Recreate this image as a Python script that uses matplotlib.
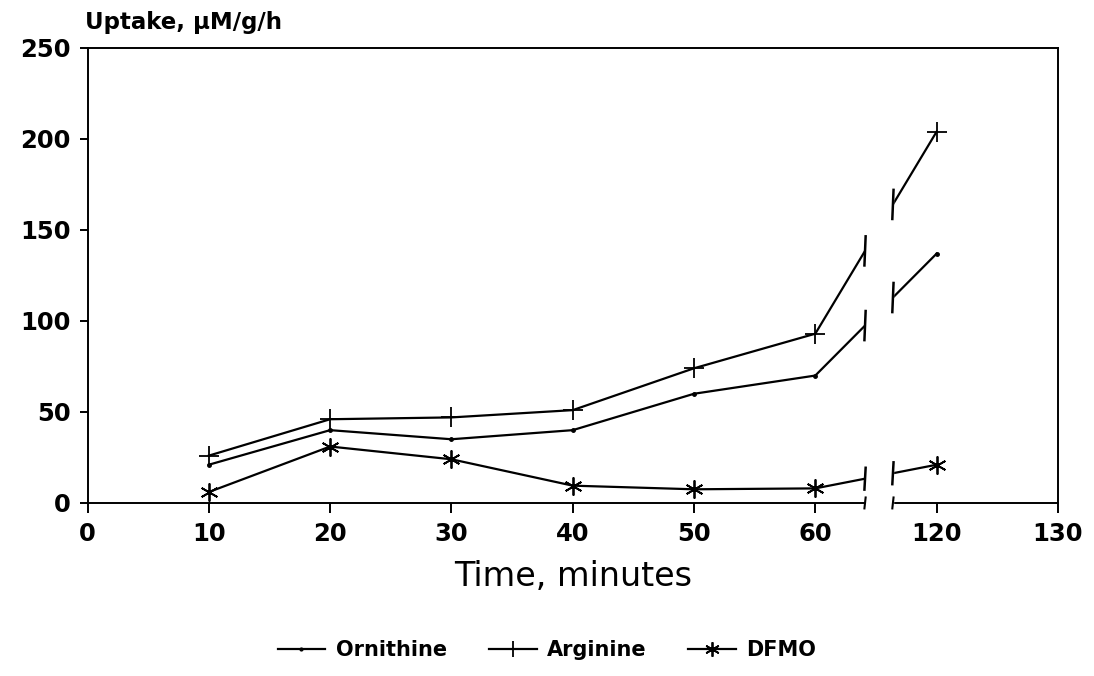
import numpy as np
import matplotlib
matplotlib.use('Agg')
from matplotlib import pyplot as plt

# data (time in minutes, uptake in uM/g/h)
time_min = [10, 20, 30, 40, 50, 60, 120]
ornithine = [21, 40, 35, 40, 60, 70, 137]
arginine = [26, 46, 47, 51, 74, 93, 204]
dfmo = [6, 31, 24, 9.5, 7.5, 8, 21]

tick_values = [0, 10, 20, 30, 40, 50, 60, 120, 130]
y_ticks = [0, 50, 100, 150, 200, 250]

# axis break: 60 -> 120 is squeezed to one tick step
BREAK_FROM, BREAK_TO = 60, 120
GAP = (64.1, 66.4)


def squeeze(t):
    """Map real time onto the broken axis."""
    t = np.asarray(t, dtype=float)
    return np.where(t > BREAK_FROM, t - (BREAK_TO - BREAK_FROM - 10), t)


plt.rcParams['font.family'] = ['DejaVu Sans']

fig = plt.figure(figsize=(10.94, 6.76), dpi=100)
ax = fig.add_axes([0.080, 0.256, 0.887, 0.673])

xs = squeeze(time_min)
series = [('Ornithine', ornithine, dict(marker='o', markersize=2.5)),
          ('Arginine', arginine, dict(marker='+', markersize=14, markeredgewidth=1.3)),
          ('DFMO', dfmo, dict(marker=(6, 2, 0), markersize=13, markeredgewidth=1.3))]

for name, vals, style in series:
    ax.plot(xs, vals, color='k', linewidth=1.6, label=name, zorder=2, **style)

# white gap over the lines and the bottom axis
ax.axvspan(GAP[0], GAP[1], ymin=-0.03, ymax=0.99, color='white',
           zorder=3, clip_on=False)

# break marks on each line
for name, vals, style in series:
    for gx in GAP:
        gy = np.interp(gx, xs, vals)
        h = 8 if max(vals) > 50 else 6
        ax.plot([gx - 0.05, gx + 0.05], [gy - h, gy + h], color='k',
                linewidth=1.8, zorder=4)
# break marks on the x axis
for gx in GAP:
    ax.plot([gx - 0.05, gx + 0.05], [-3, 3], color='k', linewidth=1.5,
            zorder=4, clip_on=False)

ax.set_xlim(0, 80)
ax.set_ylim(0, 250)
ax.set_xticks(squeeze(tick_values))
ax.set_xticklabels([str(v) for v in tick_values])
ax.set_yticks(y_ticks)

for side in ['top', 'right', 'left', 'bottom']:
    ax.spines[side].set_linewidth(1.4)
ax.spines['top'].set_zorder(5)

ax.tick_params(axis='x', direction='out', length=7, width=1.4, pad=7,
               labelsize=17.5)
ax.tick_params(axis='y', direction='out', length=6, width=1.4, pad=6,
               labelsize=17.5)
for lbl in ax.get_xticklabels() + ax.get_yticklabels():
    lbl.set_fontweight('bold')

ax.set_xlabel('Time, minutes', fontsize=24, labelpad=10)
fig.text(0.078, 0.966, 'Uptake, \u00b5M/g/h', fontsize=16.5,
         fontweight='bold', va='center', ha='left')

fig.legend(loc='center', bbox_to_anchor=(0.5, 0.038), ncol=3, frameon=False,
           prop={'size': 15, 'weight': 'bold'}, handlelength=2.3,
           handletextpad=0.5, columnspacing=2.0, markerscale=0.8)

fig.savefig('out.png', dpi=100)
